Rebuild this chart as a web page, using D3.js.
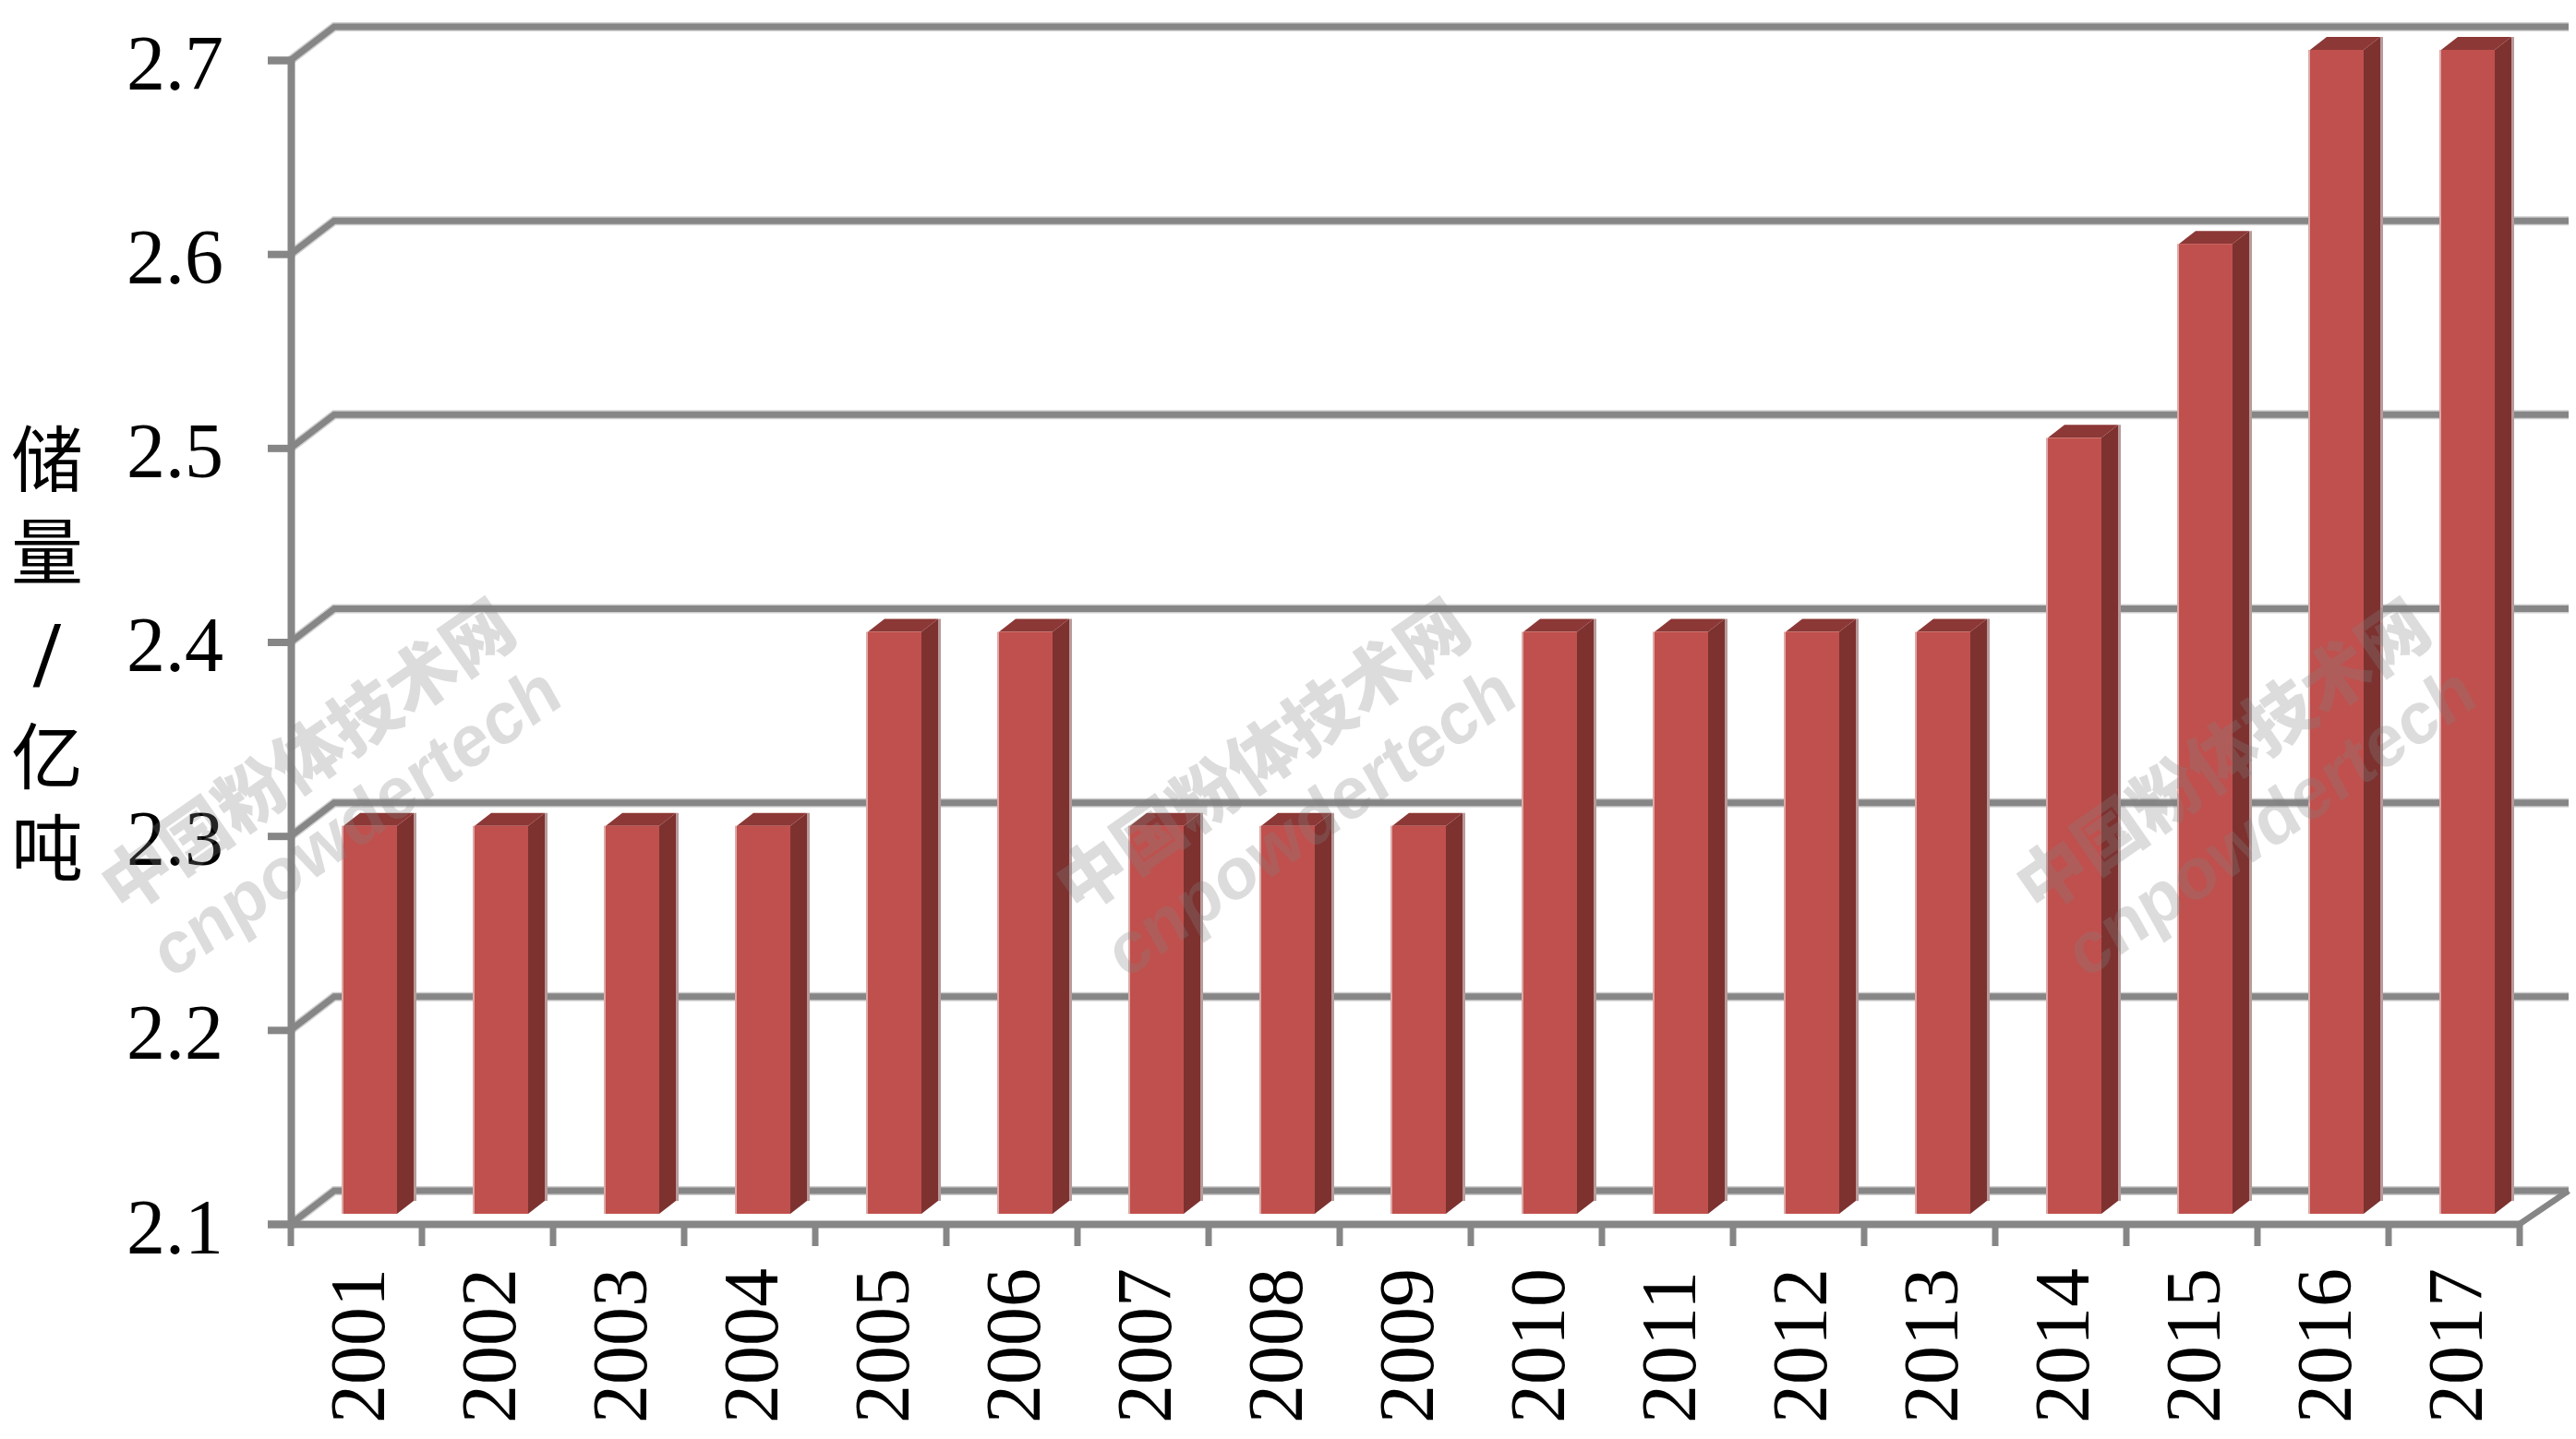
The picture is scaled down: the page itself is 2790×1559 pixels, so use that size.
<!DOCTYPE html>
<html><head><meta charset="utf-8">
<script src="https://cdn.jsdelivr.net/npm/d3@7/dist/d3.min.js"></script>
<style>html,body{margin:0;padding:0;background:#fff}svg{display:block}</style>
</head><body><svg id="c" width="2790" height="1559"></svg>
<script>
const years = ["2001","2002","2003","2004","2005","2006","2007","2008","2009","2010","2011","2012","2013","2014","2015","2016","2017"];
const reserves = [2.3,2.3,2.3,2.3,2.4,2.4,2.3,2.3,2.3,2.4,2.4,2.4,2.4,2.5,2.6,2.7,2.7];
const yTicks = [2.1,2.2,2.3,2.4,2.5,2.6,2.7];
const titleChars = ["储","量","/","亿","吨"];
const watermarkCn = "中国粉体技术网";
const watermarkEn = "cnpowdertech";

const svg = d3.select("#c");
const plotL=315, plotR=2729, plotB=1326, plotT=65, backDx=47, backDy=-36, backR=2782;
const gridCol="#868686", barFront="#C0504D", barSide="#7D3230", barTop="#8C3836";
const serif="'Liberation Serif','Times New Roman',serif";

const y = d3.scaleLinear().domain([2.1,2.7]).range([plotB,plotT]);
const x = d3.scaleBand().domain(years).range([plotL,plotR]).paddingInner(0).paddingOuter(0);

// back grid lines + diagonals (soft halo, then core)
[[10,"#cfcfcf"],[7,gridCol]].forEach(([w,c])=>{
  svg.append("g").selectAll("path").data(yTicks).join("path")
    .attr("fill","none").attr("stroke",c).attr("stroke-width",w).attr("stroke-linejoin","miter")
    .attr("d",v=>d3.line()([[plotL,y(v)],[plotL+backDx,y(v)+backDy],[backR,y(v)+backDy]]));
});
// right floor diagonal
svg.append("line").attr("x1",plotR).attr("y1",plotB).attr("x2",backR).attr("y2",plotB+backDy)
  .attr("stroke",gridCol).attr("stroke-width",6.5);

// y axis
const gy = svg.append("g").attr("transform",`translate(${plotL},0)`)
  .call(d3.axisLeft(y).tickValues(yTicks).tickFormat(d3.format(".1f")).tickSize(25).tickPadding(48));
gy.select(".domain").attr("stroke",gridCol).attr("stroke-width",8);
gy.selectAll(".tick line").attr("stroke",gridCol).attr("stroke-width",8);
gy.selectAll(".tick text").attr("font-family",serif).attr("font-size",84).attr("fill","#000")
  .attr("dy",31).attr("text-anchor","end");

// x axis
const gx = svg.append("g").attr("transform",`translate(0,${plotB})`)
  .call(d3.axisBottom(x).tickSize(0).tickPadding(0));
gx.select(".domain").attr("stroke",gridCol).attr("stroke-width",8);
gx.selectAll(".tick text").attr("font-family",serif).attr("font-size",84).attr("fill","#000")
  .attr("text-anchor","start").attr("dy",0)
  .attr("transform","translate(30,216) rotate(-90)").attr("x",0).attr("y",0);
// x ticks sit on the band edges
svg.append("g").selectAll("line").data(years.concat("end")).join("line")
  .attr("x1",d=>d==="end"?plotR:x(d)).attr("x2",d=>d==="end"?plotR:x(d))
  .attr("y1",plotB).attr("y2",plotB+24)
  .attr("stroke",gridCol).attr("stroke-width",7);

// 3D bars
const barInset=57, barW=58, depthX=18, depthY=-14, barLift=-11;
const bars = svg.append("g").selectAll("g").data(years.map((d,i)=>({year:d,value:reserves[i]}))).join("g");
const bx=d=>x(d.year)+barInset, by=d=>y(d.value)+barLift, b0=y(2.1)+barLift;
bars.append("path").attr("fill","#b89a9a")
  .attr("d",d=>`M${bx(d)+barW+depthX},${by(d)+depthY}h3V${b0+depthY}h-3Z`);
bars.append("path").attr("fill",barSide)
  .attr("d",d=>`M${bx(d)+barW},${by(d)}L${bx(d)+barW+depthX},${by(d)+depthY}V${b0+depthY}L${bx(d)+barW},${b0}Z`);
bars.append("path").attr("fill",barTop)
  .attr("d",d=>`M${bx(d)},${by(d)}L${bx(d)+depthX},${by(d)+depthY}H${bx(d)+barW+depthX}L${bx(d)+barW},${by(d)}Z`);
bars.append("rect").attr("fill",barFront)
  .attr("x",bx).attr("y",by).attr("width",barW).attr("height",d=>b0-by(d));
bars.append("rect").attr("fill","#dcaaa8")
  .attr("x",d=>bx(d)-2).attr("y",by).attr("width",2).attr("height",d=>b0-by(d));

// y title
const titleY=[493,593,708,815,914];
svg.append("g").selectAll("text").data(titleChars).join("text")
  .attr("x",51).attr("y",(d,i)=>titleY[i]).attr("text-anchor","middle").attr("dominant-baseline","central")
  .attr("font-family",d=>d==="/"?serif:"'Noto Sans CJK SC',sans-serif")
  .attr("font-size",d=>d==="/"?100:78).attr("fill","#000").attr("stroke","#000").attr("stroke-width",d=>d==="/"?2:0).text(d=>d);

// watermark
const wmShift=[0,1034,2074];
const wm = svg.append("g").selectAll("g").data(wmShift).join("g")
  .attr("transform",d=>`translate(${d},0)`).attr("fill","#808080").attr("fill-opacity",0.28);
wm.append("text").attr("transform","translate(134,992) rotate(-35)")
  .attr("font-family","'Noto Sans CJK SC',sans-serif").attr("font-weight",900).attr("font-size",75).text(watermarkCn);
wm.append("text").attr("transform","translate(184,1062) rotate(-35) skewX(-6)")
  .attr("font-family","'Liberation Sans',sans-serif").attr("font-weight",700).attr("font-size",77).text(watermarkEn);
</script></body></html>
